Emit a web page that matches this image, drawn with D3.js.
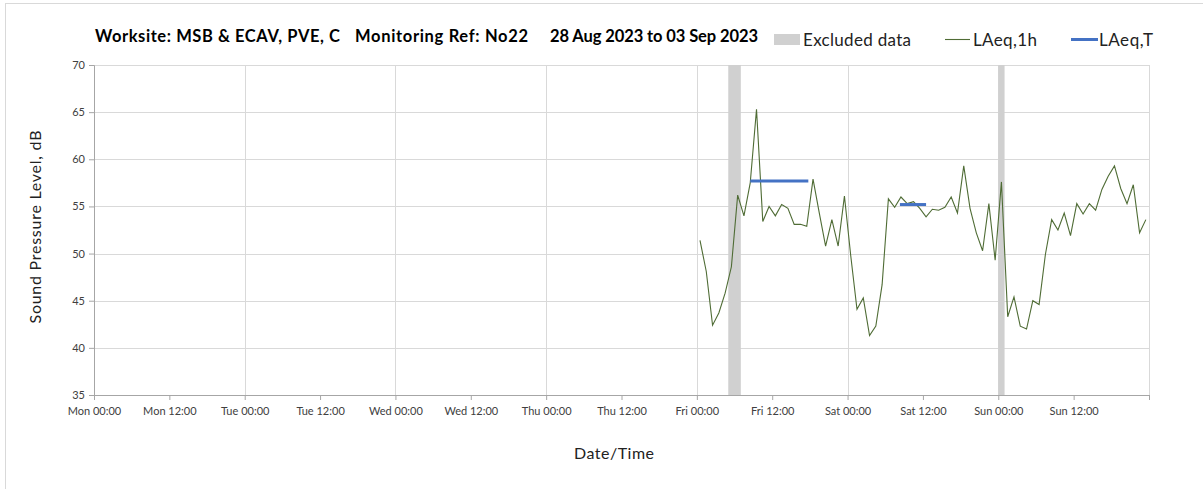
<!DOCTYPE html>
<html>
<head>
<meta charset="utf-8">
<script src="https://cdn.jsdelivr.net/npm/d3@7"></script>
<style>
  body { margin: 0; background: #fff; }
  text { font-family: Lato, "Open Sans", sans-serif; }
</style>
</head>
<body>
<div id="chart"></div>
<script>
// hourly LAeq,1h readings, first one at Fri 01 Sep 2023 00:30, one per hour
var firstReading = "2023-09-01T00:30:00Z";
var friValues = [51.4, 48.1, 42.4, 43.7, 45.8, 48.6, 56.2, 54.0, 57.5, 65.3, 53.4, 55.0,
                 54.0, 55.2, 54.8, 53.1, 53.1, 52.9, 57.9, 54.3, 50.8, 53.6, 50.8, 56.1];
var satValues = [49.8, 44.1, 45.3, 41.3, 42.3, 46.7, 55.8, 54.9, 56.0, 55.3, 55.5, 54.8,
                 53.9, 54.7, 54.6, 54.9, 56.0, 54.3, 59.3, 54.8, 52.2, 50.3, 55.3, 49.3];
var sunValues = [57.6, 43.3, 45.4, 42.3, 42.0, 45.0, 44.6, 49.9, 53.6, 52.5, 54.3, 51.9,
                 55.3, 54.2, 55.3, 54.6, 56.8, 58.2, 59.3, 56.9, 55.3, 57.3, 52.2, 53.6];

// LAeq,T periods
var periodStart = ["2023-09-01T08:30:00Z", "2023-09-02T08:20:00Z"];
var periodEnd   = ["2023-09-01T17:45:00Z", "2023-09-02T12:30:00Z"];
var periodValue = [57.7, 55.2];

// excluded data windows
var excludedStart = ["2023-09-01T05:00:00Z", "2023-09-03T00:00:00Z"];
var excludedEnd   = ["2023-09-01T07:00:00Z", "2023-09-03T01:00:00Z"];

var yTicks = [35, 40, 45, 50, 55, 60, 65, 70];
var titleParts = ["Worksite: MSB & ECAV, PVE, C", "Monitoring Ref: No22", "28 Aug 2023 to 03 Sep 2023"];

var W = 1203, H = 489;
var margin = { top: 65, right: 54, bottom: 94, left: 94 };
var width = W - margin.left - margin.right,
    height = H - margin.top - margin.bottom;

var hourly = friValues.concat(satValues, sunValues).map(function (v, i) {
    return { t: d3.utcHour.offset(new Date(firstReading), i), v: v };
});

var xStart = new Date("2023-08-28T00:00:00Z"), xEnd = new Date("2023-09-04T00:00:00Z");
var xScale = d3.scaleUtc().domain([xStart, xEnd]).range([0, width]);
var yScale = d3.scaleLinear().domain([35, 70]).range([height, 0]);

var svg = d3.select("#chart").append("svg")
    .attr("width", W).attr("height", H);

// chart area border
svg.append("rect")
    .attr("x", 5.5).attr("y", 3.5).attr("width", W).attr("height", H)
    .attr("fill", "none").attr("stroke", "#d9d9d9");

var g = svg.append("g").attr("transform", "translate(" + margin.left + "," + margin.top + ")");

// gridlines
g.selectAll(".hgrid").data(yTicks.slice(1)).enter().append("line")
    .attr("x1", 0).attr("x2", width)
    .attr("y1", function (d) { return Math.round(yScale(d)) + 0.5; })
    .attr("y2", function (d) { return Math.round(yScale(d)) + 0.5; })
    .attr("stroke", "#d9d9d9");
g.selectAll(".vgrid").data(xScale.ticks(d3.utcDay.every(1)).slice(1)).enter().append("line")
    .attr("y1", 0).attr("y2", height)
    .attr("x1", function (d) { return Math.round(xScale(d)) + 0.5; })
    .attr("x2", function (d) { return Math.round(xScale(d)) + 0.5; })
    .attr("stroke", "#d9d9d9");

// excluded bands
g.selectAll(".excl").data(excludedStart).enter().append("rect")
    .attr("x", function (d) { return xScale(new Date(d)); })
    .attr("width", function (d, i) { return xScale(new Date(excludedEnd[i])) - xScale(new Date(d)); })
    .attr("y", 0).attr("height", height)
    .attr("fill", "#d0d0d0");

// axes
var fmt = d3.utcFormat("%a %H:%M");
var xAxis = g.append("g")
    .attr("transform", "translate(0," + height + ")")
    .call(d3.axisBottom(xScale)
        .ticks(d3.utcHour.every(12))
        .tickFormat(function (d) { return +d === +xEnd ? "" : fmt(d); })
        .tickSizeOuter(0).tickSize(5).tickPadding(7));
var yAxis = g.append("g")
    .call(d3.axisLeft(yScale).tickValues(yTicks).tickSizeOuter(0).tickSize(5).tickPadding(4));
[xAxis, yAxis].forEach(function (a) {
    a.select(".domain").attr("stroke", "#a6a6a6");
    a.selectAll(".tick line").attr("stroke", "#a6a6a6");
    a.selectAll(".tick text").attr("fill", "#404040").attr("font-size", 11)
        .attr("font-family", "Lato, sans-serif");
});

// LAeq,1h line
var line = d3.line()
    .x(function (d) { return xScale(d.t); })
    .y(function (d) { return yScale(d.v); });
g.append("path").datum(hourly)
    .attr("d", line)
    .attr("fill", "none")
    .attr("stroke", "#4f6c35")
    .attr("stroke-width", 1.1);

// LAeq,T lines
g.selectAll(".laeqT").data(periodValue).enter().append("line")
    .attr("x1", function (d, i) { return xScale(new Date(periodStart[i])); })
    .attr("x2", function (d, i) { return xScale(new Date(periodEnd[i])); })
    .attr("y1", function (d) { return yScale(d); })
    .attr("y2", function (d) { return yScale(d); })
    .attr("stroke", "#4472c4").attr("stroke-width", 3);

// title, three parts spaced like the original
var titleX = [95, 355, 550], titleW = [245, 173, 208];
svg.selectAll(".title").data(titleParts).enter().append("text")
    .attr("x", function (d, i) { return titleX[i]; })
    .attr("y", 42)
    .attr("font-size", 16.5).attr("font-weight", "bold").attr("fill", "#000")
    .attr("textLength", function (d, i) { return titleW[i]; })
    .attr("lengthAdjust", "spacing")
    .text(function (d) { return d; });

// legend
var lg = svg.append("g").attr("font-size", 17).attr("fill", "#222");
lg.append("rect").attr("x", 774).attr("y", 34).attr("width", 26).attr("height", 11).attr("fill", "#d0d0d0");
lg.append("text").attr("x", 803).attr("y", 46).attr("textLength", 108).attr("lengthAdjust", "spacing")
    .text("Excluded data");
lg.append("line").attr("x1", 945).attr("x2", 970).attr("y1", 39.5).attr("y2", 39.5)
    .attr("stroke", "#4f6c35").attr("stroke-width", 1.1);
lg.append("text").attr("x", 973).attr("y", 46).attr("textLength", 64).attr("lengthAdjust", "spacing")
    .text("LAeq,1h");
lg.append("line").attr("x1", 1071).attr("x2", 1098).attr("y1", 39.5).attr("y2", 39.5)
    .attr("stroke", "#4472c4").attr("stroke-width", 3);
lg.append("text").attr("x", 1099).attr("y", 46).attr("textLength", 54).attr("lengthAdjust", "spacing")
    .text("LAeq,T");

// axis titles
svg.append("text")
    .attr("transform", "translate(41,227) rotate(-90)")
    .attr("text-anchor", "middle").attr("font-size", 16).attr("fill", "#222")
    .attr("textLength", 193).attr("lengthAdjust", "spacing")
    .text("Sound Pressure Level, dB");
svg.append("text")
    .attr("x", 614).attr("y", 459)
    .attr("text-anchor", "middle").attr("font-size", 16).attr("fill", "#222")
    .attr("textLength", 80).attr("lengthAdjust", "spacing")
    .text("Date/Time");
</script>
</body>
</html>
